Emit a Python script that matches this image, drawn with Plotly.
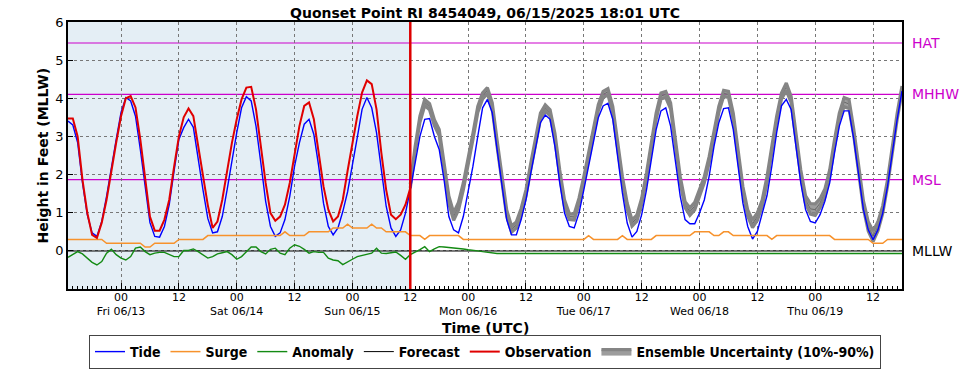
import pandas as pd
import plotly.graph_objects as go

# ---------------- data (hourly, starting 2025-06-12 13:00 UTC) ----------------
start_time = "2025-06-12 13:00"
forecast_start = "2025-06-15 12:00"

tide = [
    3.40, 3.30, 2.84, 1.79, 0.95, 0.47, 0.38, 0.77, 1.43, 2.22,
    2.92, 3.63, 4.02, 3.93, 3.53, 2.66, 1.69, 0.74, 0.38, 0.36,
    0.64, 1.21, 2.09, 2.92, 3.23, 3.45, 3.24, 2.39, 1.60, 0.85,
    0.47, 0.50, 0.90, 1.60, 2.39, 3.10, 3.75, 4.04, 3.93, 3.27,
    2.31, 1.30, 0.64, 0.38, 0.47, 0.82, 1.43, 2.22, 2.83, 3.32,
    3.45, 3.05, 2.22, 1.25, 0.64, 0.42, 0.60, 1.03, 1.55, 2.22,
    2.97, 3.71, 4.02, 3.75, 3.10, 2.13, 1.17, 0.60, 0.38, 0.55,
    0.99, 1.60, 2.31, 3.00, 3.45, 3.47, 3.00, 2.66, 1.87, 0.90,
    0.55, 0.47, 0.90, 1.52, 2.22, 3.00, 3.75, 3.97, 3.62, 2.66,
    1.69, 0.82, 0.42, 0.42, 0.82, 1.34, 2.04, 2.74, 3.36, 3.56,
    3.45, 2.74, 1.78, 0.99, 0.64, 0.60, 0.99, 1.60, 2.22, 2.83,
    3.49, 3.80, 3.87, 3.45, 2.48, 1.52, 0.73, 0.36, 0.51, 0.95,
    1.60, 2.39, 3.18, 3.67, 3.75, 3.27, 2.31, 1.43, 0.82, 0.71,
    0.71, 0.99, 1.34, 1.96, 2.74, 3.36, 3.73, 3.75, 3.18, 2.22,
    1.25, 0.64, 0.31, 0.51, 0.95, 1.45, 2.22, 3.10, 3.80, 3.97,
    3.71, 2.74, 1.78, 1.08, 0.77, 0.73, 0.95, 1.30, 1.78, 2.57,
    3.27, 3.67, 3.67, 2.92, 1.96, 1.08, 0.55, 0.29, 0.55, 0.99,
    1.69, 2.57, 3.45, 4.19,
]

surge = [
    0.3, 0.3, 0.3, 0.3, 0.3, 0.3, 0.3, 0.3, 0.2, 0.2,
    0.2, 0.2, 0.2, 0.2, 0.2, 0.2, 0.1, 0.1, 0.2, 0.2,
    0.2, 0.2, 0.2, 0.3, 0.3, 0.3, 0.3, 0.3, 0.3, 0.4,
    0.4, 0.4, 0.4, 0.4, 0.4, 0.4, 0.4, 0.4, 0.4, 0.4,
    0.4, 0.4, 0.4, 0.4, 0.4, 0.5, 0.4, 0.4, 0.4, 0.4,
    0.5, 0.5, 0.5, 0.5, 0.5, 0.6, 0.6, 0.6, 0.7, 0.6,
    0.6, 0.6, 0.6, 0.7, 0.6, 0.6, 0.5, 0.5, 0.5, 0.5,
    0.5, 0.4, 0.4, 0.4, 0.3, 0.4, 0.4, 0.4, 0.4, 0.4,
    0.4, 0.4, 0.3, 0.3, 0.3, 0.3, 0.3, 0.3, 0.3, 0.3,
    0.3, 0.3, 0.3, 0.3, 0.3, 0.3, 0.3, 0.3, 0.3, 0.3,
    0.3, 0.3, 0.3, 0.3, 0.3, 0.3, 0.3, 0.3, 0.4, 0.3,
    0.3, 0.3, 0.3, 0.3, 0.3, 0.4, 0.3, 0.3, 0.3, 0.3,
    0.3, 0.3, 0.4, 0.4, 0.4, 0.4, 0.4, 0.4, 0.4, 0.4,
    0.5, 0.5, 0.5, 0.5, 0.4, 0.4, 0.5, 0.5, 0.4, 0.4,
    0.4, 0.4, 0.4, 0.4, 0.4, 0.4, 0.3, 0.4, 0.4, 0.4,
    0.4, 0.4, 0.4, 0.4, 0.4, 0.4, 0.4, 0.4, 0.4, 0.3,
    0.3, 0.3, 0.3, 0.3, 0.3, 0.3, 0.3, 0.2, 0.2, 0.2,
    0.3, 0.3, 0.3, 0.3,
]

anomaly = [
    -0.17, -0.10, -0.02, -0.08, -0.18, -0.30, -0.37, -0.28, -0.06, 0.04,
    -0.10, -0.19, -0.24, -0.15, 0.07, 0.10, -0.02, -0.10, -0.06, -0.04,
    -0.04, -0.10, -0.15, -0.15, 0.01, 0.01, 0.05, -0.02, -0.10, -0.19,
    -0.15, -0.08, -0.05, -0.02, -0.10, -0.22, -0.15, -0.02, 0.10, 0.10,
    -0.02, -0.08, 0.04, 0.07, -0.06, -0.10, 0.07, 0.16, 0.12, 0.04,
    -0.06, -0.02, -0.04, -0.04, -0.19, -0.24, -0.26, -0.36, -0.30, -0.22,
    -0.15, -0.12, -0.10, -0.06, 0.07, -0.06, -0.07, -0.05, -0.03, -0.12,
    -0.22, -0.10, -0.04, 0.03, 0.11, -0.02, 0.05, 0.11, 0.10, 0.09,
    0.08, 0.07, 0.05, 0.03, 0.02, 0.00, -0.02, -0.04, -0.06, -0.07,
    -0.07, -0.07, -0.07, -0.07, -0.07, -0.07, -0.07, -0.07, -0.07, -0.07,
    -0.07, -0.07, -0.07, -0.07, -0.07, -0.07, -0.07, -0.07, -0.07, -0.07,
    -0.07, -0.07, -0.07, -0.07, -0.07, -0.07, -0.07, -0.07, -0.07, -0.07,
    -0.07, -0.07, -0.07, -0.07, -0.07, -0.07, -0.07, -0.07, -0.07, -0.07,
    -0.07, -0.07, -0.07, -0.07, -0.07, -0.07, -0.07, -0.07, -0.07, -0.07,
    -0.07, -0.07, -0.07, -0.07, -0.07, -0.07, -0.07, -0.07, -0.07, -0.07,
    -0.07, -0.07, -0.07, -0.07, -0.07, -0.07, -0.07, -0.07, -0.07, -0.07,
    -0.07, -0.07, -0.07, -0.07, -0.07, -0.07, -0.07, -0.07, -0.07, -0.07,
    -0.07, -0.07, -0.07, -0.07,
]

observation = [
    3.47, 3.47, 3.00, 1.87, 1.00, 0.42, 0.34, 0.74, 1.34, 2.13,
    2.84, 3.53, 4.00, 4.06, 3.76, 2.92, 1.87, 0.90, 0.53, 0.53,
    0.82, 1.34, 2.20, 3.00, 3.50, 3.73, 3.53, 2.74, 1.96, 1.20,
    0.60, 0.77, 1.34, 2.13, 2.83, 3.45, 3.97, 4.28, 4.30, 3.71,
    2.74, 1.78, 0.99, 0.79, 0.90, 1.21, 1.78, 2.57, 3.27, 3.80,
    3.89, 3.45, 2.58, 1.69, 1.08, 0.77, 0.90, 1.34, 2.10, 2.83,
    3.53, 4.15, 4.47, 4.37, 3.71, 2.57, 1.60, 0.95, 0.83, 0.95,
    1.21, 1.65,
]

forecast = [
    1.70, 2.66, 3.45, 3.89, 3.78, 3.36, 3.10, 2.22, 1.34, 0.90,
    1.17, 1.69, 2.31, 3.00, 3.71, 4.06, 4.20, 3.80, 2.83, 1.87,
    0.99, 0.57, 0.68, 1.03, 1.52, 2.22, 2.92, 3.53, 3.75, 3.62,
    3.00, 2.04, 1.25, 0.90, 0.89, 1.30, 1.87, 2.48, 3.10, 3.75,
    4.10, 4.17, 3.71, 2.74, 1.87, 1.17, 0.73, 0.86, 1.30, 1.96,
    2.74, 3.53, 4.06, 4.10, 3.80, 2.83, 1.87, 1.21, 1.03, 1.17,
    1.52, 1.87, 2.39, 3.10, 3.71, 4.13, 4.10, 3.53, 2.57, 1.60,
    0.99, 0.71, 0.90, 1.25, 1.87, 2.66, 3.45, 4.06, 4.30, 3.97,
    3.00, 2.04, 1.34, 1.10, 1.08, 1.25, 1.52, 2.04, 2.83, 3.53,
    3.90, 3.85, 3.10, 2.13, 1.21, 0.64, 0.38, 0.64, 1.08, 1.78,
    2.66, 3.53, 4.24,
]

ensemble_spread = [
    0.05, 0.07, 0.08, 0.08, 0.08, 0.08, 0.08, 0.09, 0.10, 0.10,
    0.10, 0.09, 0.08, 0.08, 0.08, 0.08, 0.08, 0.08, 0.08, 0.08,
    0.08, 0.08, 0.08, 0.08, 0.08, 0.08, 0.08, 0.08, 0.08, 0.08,
    0.08, 0.08, 0.08, 0.08, 0.08, 0.08, 0.08, 0.08, 0.08, 0.08,
    0.08, 0.08, 0.08, 0.08, 0.08, 0.08, 0.08, 0.08, 0.08, 0.08,
    0.08, 0.08, 0.08, 0.08, 0.08, 0.08, 0.08, 0.08, 0.10, 0.10,
    0.08, 0.08, 0.08, 0.08, 0.08, 0.08, 0.08, 0.08, 0.08, 0.08,
    0.08, 0.10, 0.10, 0.08, 0.08, 0.08, 0.08, 0.08, 0.10, 0.08,
    0.08, 0.08, 0.10, 0.14, 0.15, 0.12, 0.10, 0.08, 0.08, 0.08,
    0.12, 0.12, 0.08, 0.08, 0.10, 0.12, 0.14, 0.12, 0.10, 0.08,
    0.08, 0.08, 0.08,
]

datum_names = ["HAT", "MHHW", "MSL", "MLLW"]
datum_values = [5.45, 4.10, 1.87, 0.00]
datum_colors = ["#cc00cc", "#cc00cc", "#cc00cc", "#000000"]

day_labels = ["Fri 06/13", "Sat 06/14", "Sun 06/15", "Mon 06/16",
              "Tue 06/17", "Wed 06/18", "Thu 06/19"]

# ---------------- derived x positions ----------------
times = pd.date_range(start_time, periods=len(tide), freq="h")
obs_times = times[: len(observation)]
fc_times = pd.date_range(forecast_start, periods=len(forecast), freq="h")
ens_hi = [f + s for f, s in zip(forecast, ensemble_spread)]
ens_lo = [f - s for f, s in zip(forecast, ensemble_spread)]

tickvals, ticktext = [], []
for i, lab in enumerate(day_labels):
    d0 = pd.Timestamp("2025-06-13") + pd.Timedelta(days=i)
    tickvals += [d0, d0 + pd.Timedelta(hours=12)]
    ticktext += ["00<br>" + lab, "12"]

FONT = "DejaVu Sans, Verdana, sans-serif"
LEGFONT = "DejaVu Sans Condensed, DejaVu Sans, sans-serif"
GRAY = "#858585"
GRAY_FILL = "rgba(133,133,133,0.8)"

# plot-area geometry (pixels) used to place outside labels
W, H = 969, 370
L, R, T, B = 68, 67, 22, 81
PW, PH = W - L - R, H - T - B


def px_to_paper_x(px):
    return (px - L) / PW


def px_to_paper_y(py):
    return (H - B - py) / PH


fig = go.Figure()

# forecast under the ensemble band (only peeks through at turning points)
fig.add_trace(go.Scatter(x=fc_times, y=forecast, mode="lines", name="Forecast",
                         line=dict(color="#000000", width=1)))
fig.add_trace(go.Scatter(x=fc_times, y=ens_hi, mode="lines",
                         line=dict(color=GRAY, width=3.2), showlegend=False,
                         hoverinfo="skip"))
fig.add_trace(go.Scatter(x=fc_times, y=ens_lo, mode="lines", fill="tonexty",
                         fillcolor=GRAY_FILL, line=dict(color=GRAY, width=3.2),
                         name="Ensemble Uncertainty (10%-90%)"))

fig.add_trace(go.Scatter(x=times, y=tide, mode="lines", name="Tide",
                         line=dict(color="#0000ff", width=1.4)))
fig.add_trace(go.Scatter(x=times, y=surge, mode="lines", name="Surge",
                         line=dict(color="#f7922c", width=1.5)))
fig.add_trace(go.Scatter(x=times, y=anomaly, mode="lines", name="Anomaly",
                         line=dict(color="#138a13", width=1.4)))
fig.add_trace(go.Scatter(x=obs_times, y=observation, mode="lines", name="Observation",
                         line=dict(color="#e00000", width=2)))

# legend order: Tide, Surge, Anomaly, Forecast, Observation, Ensemble
for tr, rank in zip(fig.data, [3, 0, 6, 1, 2, 3, 5]):
    tr.legendrank = rank
fig.data[0].legendrank = 4
fig.data[6].legendrank = 5
fig.data[2].legendrank = 6
fig.data[3].legendrank = 1
fig.data[4].legendrank = 2
fig.data[5].legendrank = 3

shapes = [
    dict(type="rect", xref="x", yref="paper", x0=start_time, x1=forecast_start,
         y0=0, y1=1, fillcolor="#e4eef5", line=dict(width=0), layer="below"),
]
for v, c in zip(datum_values, datum_colors):
    shapes.append(dict(type="line", xref="paper", yref="y", x0=0, x1=1, y0=v, y1=v,
                       line=dict(color=c, width=1.2), layer="between"))
shapes.append(dict(type="line", xref="x", yref="paper", x0=forecast_start,
                   x1=forecast_start, y0=0, y1=1,
                   line=dict(color="#dd0000", width=2.5), layer="above"))

annotations = []
for n, v, c in zip(datum_names, datum_values, datum_colors):
    annotations.append(dict(x=px_to_paper_x(910), xref="paper", y=v, yref="y", text=n,
                            showarrow=False, xanchor="left", yanchor="middle",
                            font=dict(family=FONT, size=14, color=c)))
annotations.append(dict(x=0.5, xref="paper", y=px_to_paper_y(328), yref="paper",
                        text="<b>Time (UTC)</b>", showarrow=False,
                        xanchor="center", yanchor="middle",
                        font=dict(family=FONT, size=14, color="#000")))
annotations.append(dict(x=px_to_paper_x(42), xref="paper", y=0.5, yref="paper",
                        text="<b>Height in Feet (MLLW)</b>", showarrow=False,
                        textangle=-90, xanchor="center", yanchor="middle",
                        font=dict(family=FONT, size=14, color="#000")))

fig.update_layout(
    width=W, height=H,
    margin=dict(l=L, r=R, t=T, b=B, autoexpand=False),
    paper_bgcolor="white", plot_bgcolor="white",
    title=dict(text="<b>Quonset Point RI 8454049, 06/15/2025 18:01 UTC</b>",
               x=0.5, xref="paper", xanchor="center", y=1 - 13 / H,
               yref="container", yanchor="middle",
               font=dict(family=FONT, size=14, color="#000")),
    shapes=shapes, annotations=annotations,
    legend=dict(orientation="h", x=0.5, xanchor="center",
                y=1 - 352 / H, yref="container", yanchor="middle",
                bordercolor="#444", borderwidth=1, bgcolor="white",
                font=dict(family=LEGFONT, size=14, color="#000", weight="bold"),
                itemwidth=30, traceorder="normal"),
    showlegend=True,
)

fig.update_xaxes(
    range=[start_time, "2025-06-19 18:00"],
    tickmode="array", tickvals=tickvals, ticktext=ticktext,
    ticks="inside", ticklen=6, tickcolor="#000",
    tickfont=dict(family=FONT, size=11, color="#000"),
    ticklabelstandoff=-3,
    showgrid=True, gridcolor="#777", griddash="dot", gridwidth=1,
    showline=True, linecolor="#000", linewidth=1.5, mirror=True,
    zeroline=False,
    minor=dict(dtick=3600000, tick0="2025-06-13", ticks="inside", ticklen=3,
               tickcolor="#000", showgrid=False),
)
fig.update_yaxes(
    range=[-1, 6], tickmode="array", tickvals=[0, 1, 2, 3, 4, 5, 6],
    ticks="inside", ticklen=5, tickcolor="#000",
    tickfont=dict(family=FONT, size=13, color="#000"),
    showgrid=True, gridcolor="#777", griddash="dot", gridwidth=1,
    showline=True, linecolor="#000", linewidth=1.5, mirror=True,
    zeroline=False,
)

fig.write_html("out.html", config={"displayModeBar": False},
               post_script="document.body.style.margin='0';document.body.style.overflow='hidden';")
